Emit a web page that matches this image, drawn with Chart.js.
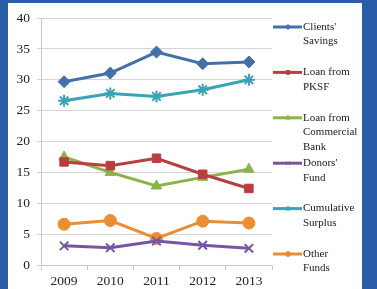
<!DOCTYPE html>
<html>
<head>
<meta charset="utf-8">
<script src="https://cdn.jsdelivr.net/npm/chart.js@4"></script>
<style>
  html, body { margin: 0; padding: 0; }
  body { width: 377px; height: 289px; background: #2a5ca8; position: relative; overflow: hidden; }
  #frame { position: absolute; left: 8px; top: 3px; width: 354px; height: 286px; background: #fff; }
</style>
</head>
<body>
<div id="frame"><canvas id="chart" width="354" height="286"></canvas></div>
<script>
// values
var years = ["2009", "2010", "2011", "2012", "2013"];
var seriesNames = [
    ["Clients'", "Savings"],
    ["Loan from", "PKSF"],
    ["Loan from", "Commercial", "Bank"],
    ["Donors'", "Fund"],
    ["Cumulative", "Surplus"],
    ["Other", "Funds"]
];
var clientsSavings = [29.7, 31.1, 34.5, 32.6, 32.9];
var loanPksf = [16.7, 16.1, 17.3, 14.7, 12.4];
var loanCommercial = [17.5, 15.0, 12.8, 14.2, 15.5];
var donorsFund = [3.1, 2.8, 3.9, 3.2, 2.7];
var cumulativeSurplus = [26.6, 27.8, 27.3, 28.4, 30.0];
var otherFunds = [6.6, 7.2, 4.3, 7.1, 6.8];
var yTicks = [0, 5, 10, 15, 20, 25, 30, 35, 40];

var colors = ["#4470aa", "#b83f3f", "#8ab34a", "#7457a3", "#3aa3b8", "#ec8d34"];
var styles = ["rectRot", "rect", "triangle", "crossRot", "star", "circle"];
var radii = [6, 6, 6, 6, 6, 6];
var values = [clientsSavings, loanPksf, loanCommercial, donorsFund, cumulativeSurplus, otherFunds];

var serif = "'Liberation Serif', 'DejaVu Serif', serif";

var datasets = values.map(function(v, i) {
    return {
        label: seriesNames[i].join(" "),
        data: v,
        borderColor: colors[i],
        backgroundColor: colors[i],
        pointStyle: styles[i],
        pointRadius: radii[i],
        pointBorderWidth: (styles[i] == "crossRot" || styles[i] == "star") ? 2 : 1,
        borderWidth: 3,
        tension: 0
    };
});

var sideLegend = {
    id: "sideLegend",
    afterDraw: function(chart) {
        var ctx = chart.ctx;
        ctx.save();
        ctx.font = "11px " + serif;
        ctx.textBaseline = "middle";
        ctx.fillStyle = "#1a1a1a";
        chart.data.datasets.forEach(function(ds, i) {
            var y = 24 + i * 45.4;
            ctx.strokeStyle = ds.borderColor;
            ctx.lineWidth = 3;
            ctx.beginPath();
            ctx.moveTo(265, y);
            ctx.lineTo(294, y);
            ctx.stroke();
            ctx.fillStyle = ds.borderColor;
            ctx.lineWidth = 1;
            Chart.helpers.drawPoint(ctx, {pointStyle: ds.pointStyle, rotation: 0, radius: 2.5, borderWidth: 1}, 280, y);
            ctx.fillStyle = "#1a1a1a";
            seriesNames[i].forEach(function(line, k) {
                ctx.fillText(line, 295, y + k * 14.5);
            });
        });
        ctx.restore();
    }
};

new Chart(document.getElementById("chart"), {
    type: "line",
    data: { labels: years, datasets: datasets },
    options: {
        responsive: false,
        animation: false,
        layout: { padding: { top: 15, right: 90, left: 0, bottom: 0 } },
        plugins: { legend: { display: false }, tooltip: { enabled: false } },
        scales: {
            x: {
                offset: true,
                grid: { display: true, drawOnChartArea: false, drawTicks: true, tickLength: 5, color: "#c8c8c8", offset: true },
                border: { color: "#c8c8c8" },
                ticks: { color: "#222", padding: 3, font: { family: serif, size: 13.5 } },
                afterFit: function(s) { s.height = 24; }
            },
            y: {
                min: 0,
                max: 40,
                afterBuildTicks: function(s) { s.ticks = yTicks.map(function(t) { return { value: t }; }); },
                grid: { color: "#d4d4d4", tickLength: 4, lineWidth: 1 },
                border: { color: "#c8c8c8" },
                ticks: { color: "#222", padding: 7, font: { family: serif, size: 13.5 } },
                afterFit: function(s) { s.width = 33; }
            }
        }
    },
    plugins: [sideLegend]
});
</script>
</body>
</html>
